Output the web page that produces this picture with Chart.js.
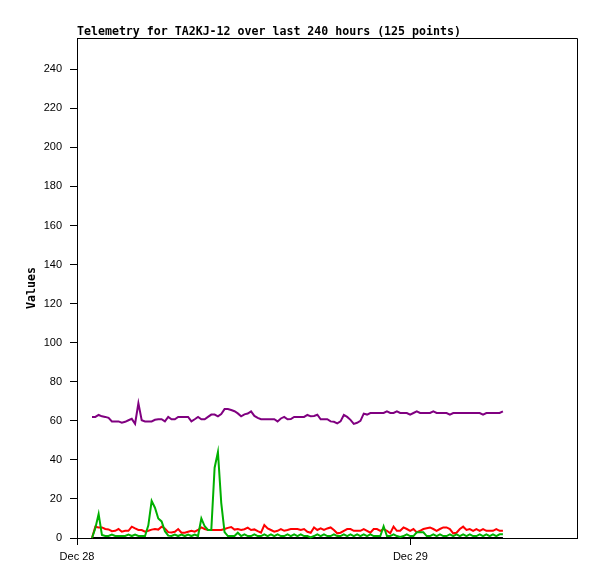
<!DOCTYPE html>
<html>
<head>
<meta charset="utf-8">
<script src="https://cdn.jsdelivr.net/npm/chart.js@4/dist/chart.umd.min.js"></script>
<style>
  body { margin: 0; background: #fff; }
  canvas { display: block; }
</style>
</head>
<body>
<canvas id="grafico" width="597" height="579"></canvas>
<script>
// titulo e eixos
const titulo = 'Telemetry for TA2KJ-12 over last 240 hours (125 points)';
const tituloEixoY = 'Values';
const ticksY = [0, 20, 40, 60, 80, 100, 120, 140, 160, 180, 200, 220, 240];
const ticksX = [0, 24]; // horas desde Dec 28 00:00
const rotulosX = ['Dec 28', 'Dec 29'];

// amostras: primeira em ~1.08h, uma a cada ~0.239h
const inicioHoras = 1.08;
const passoHoras = 0.2386;

const serieRoxa = [62, 62, 63, 62.3, 62, 61.5, 59.7, 59.7, 59.7, 59, 59.5, 60.3, 61, 58.5, 69, 60.3, 59.7, 59.7, 59.7, 60.5,
  60.8, 60.8, 59.7, 62, 60.8, 60.8, 62, 62, 62, 62, 59.7, 60.8, 62, 60.8, 60.8, 62, 63.2, 63.2, 62.3, 63.5,
  66, 66, 65.5, 64.9, 63.8, 62.3, 63.3, 63.7, 64.8, 62.5, 61.5, 60.8, 60.8, 60.8, 60.8, 60.8, 59.7, 61.2, 62, 60.8,
  60.9, 62, 62, 62, 62, 63, 62.3, 62.5, 63.1, 60.8, 60.8, 60.8, 59.7, 59.5, 58.7, 59.7, 63, 62, 60.5, 58.4,
  59, 60, 63.7, 63.2, 64, 64, 64, 64, 64, 64.8, 64, 64, 64.8, 64, 64, 64, 63.2, 64, 64.8, 64,
  64, 64, 64, 64.8, 64, 64, 64, 64, 63.2, 64, 64, 64, 64, 64, 64, 64, 64, 64, 63.2, 64,
  64, 64, 64, 64, 64.8];

const serieVermelha = [0, 5.8, 5.4, 5.4, 4.6, 4.4, 3.5, 3.7, 4.6, 3.2, 3.7, 3.7, 5.8, 4.9, 4.1, 4.1, 3.2, 3.7, 4.3, 4.6,
  4.3, 5.8, 4.9, 3, 2.8, 3.2, 4.6, 2.7, 2.7, 3.2, 3.7, 3.2, 4.1, 5.4, 4.6, 4.1, 4.1, 4.1, 4.1, 4.1,
  4.6, 5.2, 5.6, 4.3, 4.6, 4.1, 4.5, 5.3, 4.1, 4.4, 3.5, 2.7, 6.6, 4.9, 4.1, 3.2, 3.7, 4.6, 3.7, 4.1,
  4.6, 4.6, 4.6, 4.1, 4.6, 3.2, 2.7, 5.4, 4.1, 4.9, 4.1, 4.9, 5.4, 4.1, 2.4, 2.7, 3.7, 4.6, 4.6, 3.7,
  3.7, 3.7, 4.6, 3.7, 2.7, 4.6, 4.6, 3.7, 4.6, 3.7, 2.4, 5.8, 3.7, 3.7, 5.4, 4.6, 3.7, 4.6, 2.9, 3.7,
  4.6, 5.0, 5.4, 4.6, 3.7, 4.6, 5.4, 5.4, 4.6, 2.4, 2.7, 4.6, 5.8, 4.1, 4.6, 3.7, 4.6, 3.7, 4.6, 3.7,
  3.7, 3.7, 4.6, 3.7, 3.7];

const serieVerde = [0, 5, 12.3, 1.5, 1, 1, 1.7, 1, 1, 1, 1, 1.7, 1, 1.7, 1, 1, 1, 6.5, 19, 15.5,
  10, 8.5, 3.5, 1.2, 1, 1.7, 1, 1.7, 1, 1.7, 1, 1.7, 1, 10, 6, 4.1, 4.1, 36, 44, 18,
  3, 1, 1, 1, 2.7, 1, 1.9, 1, 1, 1.9, 1, 1, 1.9, 1, 1.9, 1, 1.9, 1, 1, 1.9,
  1, 1.9, 1, 1.9, 1, 1, 0.3, 1, 1.9, 1, 1.9, 1, 1, 1.9, 1, 1, 1.9, 1, 1.9, 1,
  1.9, 1, 1.9, 1, 1.9, 1, 1, 1, 6, 1, 1, 1.9, 1, 0.5, 1, 1.9, 1, 1, 2.9, 2.9,
  2.9, 1, 1, 1.9, 1, 1.9, 1, 1, 1.9, 1, 1.9, 1, 1.9, 1, 1.9, 1, 1, 1.9, 1, 1.9,
  1, 1.9, 1, 1.9, 1.9];

const serieZero = [0, 0, 0, 0, 0, 0, 0, 0, 0, 0, 0, 0, 0, 0, 0, 0, 0, 0, 0, 0, 0, 0, 0, 0, 0,
  0, 0, 0, 0, 0, 0, 0, 0, 0, 0, 0, 0, 0, 0, 0, 0, 0, 0, 0, 0, 0, 0, 0, 0, 0,
  0, 0, 0, 0, 0, 0, 0, 0, 0, 0, 0, 0, 0, 0, 0, 0, 0, 0, 0, 0, 0, 0, 0, 0, 0,
  0, 0, 0, 0, 0, 0, 0, 0, 0, 0, 0, 0, 0, 0, 0, 0, 0, 0, 0, 0, 0, 0, 0, 0, 0,
  0, 0, 0, 0, 0, 0, 0, 0, 0, 0, 0, 0, 0, 0, 0, 0, 0, 0, 0, 0, 0, 0, 0, 0, 0];

const fonteMono = '"DejaVu Sans Mono", monospace';
const fonteTicks = '"Liberation Sans", Arial, sans-serif';

function pontos(valores) {
  return valores.map((v, i) => ({ x: inicioHoras + i * passoHoras, y: v }));
}

function linha(valores, cor, ordem, clip) {
  return {
    data: pontos(valores),
    borderColor: cor,
    borderWidth: 2,
    pointRadius: 0,
    tension: 0,
    fill: false,
    order: ordem,
    clip: clip
  };
}

// moldura em volta da area do grafico + titulo
const moldura = {
  id: 'moldura',
  afterDraw(chart) {
    const { ctx, chartArea: a } = chart;
    ctx.save();
    ctx.strokeStyle = '#000';
    ctx.lineWidth = 1;
    ctx.beginPath();
    ctx.moveTo(a.left, a.top + 0.5);
    ctx.lineTo(a.right + 0.5, a.top + 0.5);
    ctx.lineTo(a.right + 0.5, a.bottom);
    ctx.stroke();
    ctx.fillStyle = '#000';
    ctx.font = 'bold 11.6px ' + fonteMono;
    ctx.textBaseline = 'alphabetic';
    ctx.textAlign = 'left';
    ctx.fillText(titulo, a.left, 35);
    ctx.restore();
  }
};

new Chart(document.getElementById('grafico'), {
  type: 'line',
  data: {
    datasets: [
      linha(serieRoxa, '#800080', 0, true),
      linha(serieVerde, '#00b000', 1, false),
      linha(serieVermelha, '#ff0000', 2, false),
      linha(serieZero, '#000000', 3, false)
    ]
  },
  options: {
    responsive: false,
    animation: false,
    layout: { padding: { top: 38, right: 20, left: 0, bottom: 0 } },
    plugins: {
      legend: { display: false },
      tooltip: { enabled: false },
      title: { display: false }
    },
    scales: {
      x: {
        type: 'linear',
        min: 0,
        max: 36,
        afterBuildTicks: s => { s.ticks = ticksX.map(v => ({ value: v })); },
        afterFit: s => { s.height = 41; },
        ticks: {
          color: '#000',
          font: { family: fonteTicks, size: 11 },
          padding: 5,
          maxRotation: 0,
          autoSkip: false,
          callback: (v) => rotulosX[ticksX.indexOf(v)]
        },
        grid: { drawOnChartArea: false, tickLength: 7, color: '#000' },
        border: { color: '#000', width: 1 }
      },
      y: {
        min: 0,
        max: 256,
        afterBuildTicks: s => { s.ticks = ticksY.map(v => ({ value: v })); },
        afterFit: s => { s.width = 77; },
        ticks: {
          color: '#000',
          font: { family: fonteTicks, size: 11 },
          padding: 8
        },
        grid: { drawOnChartArea: false, tickLength: 7, color: '#000' },
        border: { color: '#000', width: 1 },
        title: {
          display: true,
          text: tituloEixoY,
          color: '#000',
          font: { family: fonteMono, size: 11.6, weight: 'bold' },
          padding: { top: 25, bottom: 0 }
        }
      }
    }
  },
  plugins: [moldura]
});
</script>
</body>
</html>
